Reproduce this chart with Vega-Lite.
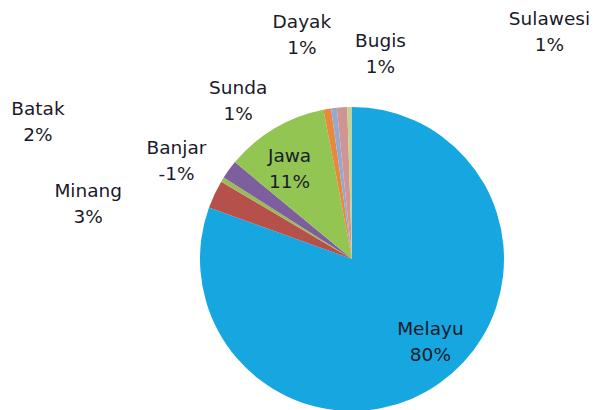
{
  "$schema": "https://vega.github.io/schema/vega-lite/v6.json",
  "width": 304,
  "height": 302,
  "padding": {"left": 200, "top": 108, "right": 89, "bottom": 0},
  "autosize": {"type": "none"},
  "background": "white",
  "config": {"view": {"stroke": null}, "text": {"lineBreak": " ", "lineHeight": 26, "font": "DejaVu Sans", "fontSize": 18.5, "fill": "#1a1a2a", "align": "center", "baseline": "middle"}},
  "data": {
    "values": [
      {"group": "Melayu", "share": 80.5, "order": 1, "label": "Melayu 80%"},
      {"group": "Minang", "share": 3, "order": 2, "label": "Minang 3%"},
      {"group": "Banjar", "share": 0.5, "order": 3, "label": "Banjar -1%"},
      {"group": "Batak", "share": 2, "order": 4, "label": "Batak 2%"},
      {"group": "Jawa", "share": 11, "order": 5, "label": "Jawa 11%"},
      {"group": "Sunda", "share": 0.8, "order": 6, "label": "Sunda 1%"},
      {"group": "Dayak", "share": 0.6, "order": 7, "label": "Dayak 1%"},
      {"group": "Bugis", "share": 1.1, "order": 8, "label": "Bugis 1%"},
      {"group": "Sulawesi", "share": 0.5, "order": 9, "label": "Sulawesi 1%"}
    ]
  },
  "encoding": {
    "theta": {"field": "share", "type": "quantitative", "stack": true},
    "order": {"field": "order", "type": "quantitative", "sort": "ascending"}
  },
  "layer": [
    {
      "mark": {"type": "arc", "outerRadius": 152, "stroke": null},
      "encoding": {
        "color": {
          "field": "group",
          "type": "nominal",
          "legend": null,
          "scale": {
            "domain": ["Melayu", "Minang", "Banjar", "Batak", "Jawa", "Sunda", "Dayak", "Bugis", "Sulawesi"],
            "range": ["#17A7E0", "#B5504A", "#9BBB59", "#7D5F9E", "#92C552", "#E8883C", "#94A9CF", "#D09593", "#BFD49A"]
          }
        }
      }
    },
    {
      "mark": {"type": "text", "radius": 112, "dx": 14, "dy": -22},
      "encoding": {"text": {"condition": {"test": "datum.group === 'Melayu'", "field": "label"}, "value": ""}}
    },
    {
      "mark": {"type": "text", "radius": 105, "dx": -9, "dy": -13},
      "encoding": {"text": {"condition": {"test": "datum.group === 'Jawa'", "field": "label"}, "value": ""}}
    },
    {
      "mark": {"type": "text", "radius": 265, "dx": -24, "dy": 45},
      "encoding": {"text": {"condition": {"test": "datum.group === 'Minang'", "field": "label"}, "value": ""}}
    },
    {
      "mark": {"type": "text", "radius": 200, "dx": -5, "dy": -7},
      "encoding": {"text": {"condition": {"test": "datum.group === 'Banjar'", "field": "label"}, "value": ""}}
    },
    {
      "mark": {"type": "text", "radius": 340, "dx": -39, "dy": 50},
      "encoding": {"text": {"condition": {"test": "datum.group === 'Batak'", "field": "label"}, "value": ""}}
    },
    {
      "mark": {"type": "text", "radius": 190, "dx": -83, "dy": 16},
      "encoding": {"text": {"condition": {"test": "datum.group === 'Sunda'", "field": "label"}, "value": ""}}
    },
    {
      "mark": {"type": "text", "radius": 228, "dx": -23, "dy": -11},
      "encoding": {"text": {"condition": {"test": "datum.group === 'Dayak'", "field": "label"}, "value": ""}}
    },
    {
      "mark": {"type": "text", "radius": 205, "dx": 42, "dy": -13},
      "encoding": {"text": {"condition": {"test": "datum.group === 'Bugis'", "field": "label"}, "value": ""}}
    },
    {
      "mark": {"type": "text", "radius": 227, "dx": 201, "dy": -13},
      "encoding": {"text": {"condition": {"test": "datum.group === 'Sulawesi'", "field": "label"}, "value": ""}}
    }
  ]
}
